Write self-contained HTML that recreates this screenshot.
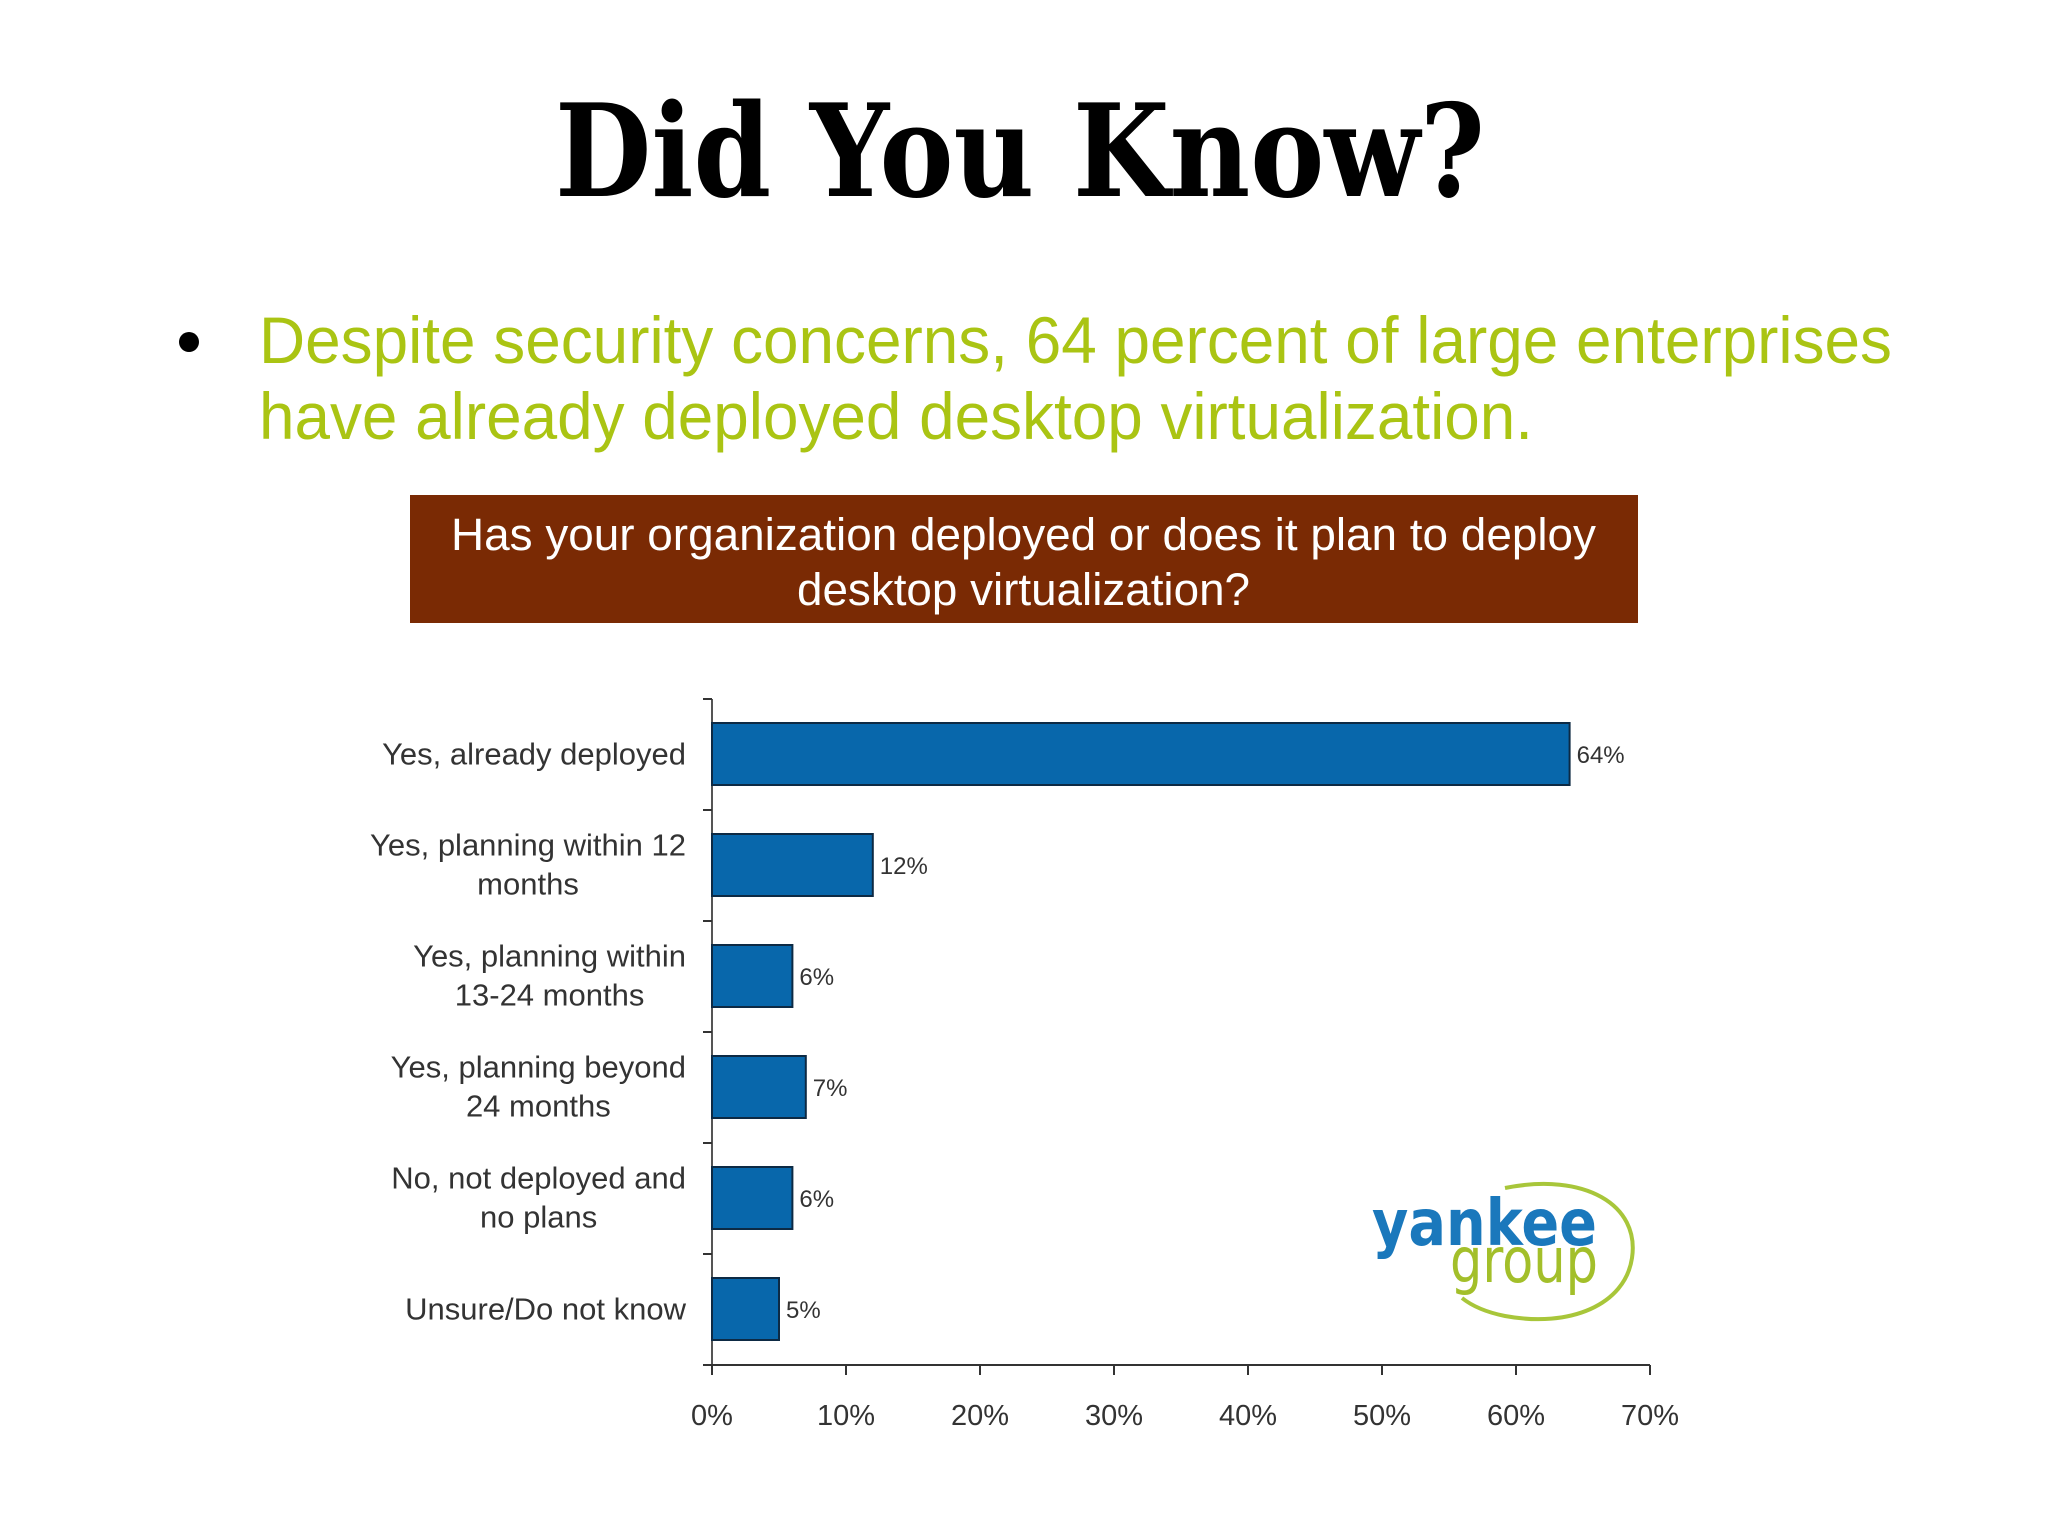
<!DOCTYPE html>
<html><head><meta charset="utf-8"><style>
html,body{margin:0;padding:0;background:#fff;}
svg{display:block;}
</style></head><body>
<svg id="slide" xmlns="http://www.w3.org/2000/svg" width="2048" height="1536" viewBox="0 0 2048 1536">
<rect width="2048" height="1536" fill="#ffffff"/>
<text x="1020" y="196" text-anchor="middle" font-family="DejaVu Serif, Liberation Serif, serif" font-weight="bold" font-size="128" textLength="930" lengthAdjust="spacingAndGlyphs" fill="#000">Did You Know?</text>
<circle cx="189" cy="342" r="10" fill="#000"/>
<g font-family="Liberation Sans, sans-serif" font-size="66" fill="#aac413">
<text x="259" y="363" textLength="1633" lengthAdjust="spacingAndGlyphs">Despite security concerns, 64 percent of large enterprises</text>
<text x="259" y="439" textLength="1274" lengthAdjust="spacingAndGlyphs">have already deployed desktop virtualization.</text>
</g>
<rect x="410" y="495" width="1228" height="128" fill="#7a2a04"/>
<g font-family="Liberation Sans, sans-serif" font-size="45" fill="#fff">
<text x="451" y="550" textLength="1145" lengthAdjust="spacingAndGlyphs">Has your organization deployed or does it plan to deploy</text>
<text x="797" y="605" textLength="453" lengthAdjust="spacingAndGlyphs">desktop virtualization?</text>
</g>
<g id="chart"></g>
<g>
<path d="M1505 1188 C1585 1172 1640 1205 1632 1258 C1625 1305 1570 1328 1505 1316 C1485 1312 1472 1306 1462 1298" fill="none" stroke="#a8c63a" stroke-width="4"/>
<text x="1372" y="1245" font-family="DejaVu Sans, Liberation Sans, sans-serif" font-weight="bold" font-size="64" textLength="225" lengthAdjust="spacingAndGlyphs" fill="#1a78bc">yankee</text>
<text x="1450" y="1282" font-family="DejaVu Sans, Liberation Sans, sans-serif" font-size="62" textLength="148" lengthAdjust="spacingAndGlyphs" fill="#a3bf2a">group</text>
</g>
</svg>
<script>
const categories = [["Yes, already deployed"],["Yes, planning within 12","months"],["Yes, planning within","13-24 months"],["Yes, planning beyond","24 months"],["No, not deployed and","no plans"],["Unsure/Do not know"]];
const values = [64, 12, 6, 7, 6, 5];
const valueLabels = ["64%","12%","6%","7%","6%","5%"];
const xTicks = [0,10,20,30,40,50,60,70];
const xTickLabels = ["0%","10%","20%","30%","40%","50%","60%","70%"];

const NS = "http://www.w3.org/2000/svg";
const g = document.getElementById('chart');
const x0 = 712, pxPer = 13.4, yTop = 699, band = 111;
const xs = v => x0 + v * pxPer;
const yb = i => yTop + i * band;
const yBottom = yb(categories.length);
function mk(tag, attrs, parent){ const e=document.createElementNS(NS,tag); for(const k in attrs) e.setAttribute(k,attrs[k]); (parent||g).appendChild(e); return e; }

const yAxis = mk('line',{x1:x0,y1:yTop,x2:x0,y2:yBottom+8,stroke:'#555','stroke-width':2});


const xAxis = mk('line',{x1:x0-8,y1:yBottom,x2:xs(70),y2:yBottom,stroke:'#333','stroke-width':2});



for(let i=0;i<=categories.length;i++){
  const t = mk('line',{x1:x0-9,y1:yb(i),x2:x0,y2:yb(i),stroke:'#333','stroke-width':2});
  
  
}
xTicks.forEach((v,i)=>{
  const t = mk('line',{x1:xs(v),y1:yBottom,x2:xs(v),y2:yBottom+10,stroke:'#333','stroke-width':2});
  
  
  const l = mk('text',{x:xs(v),y:yBottom+60,'text-anchor':'middle','font-family':'Liberation Sans, sans-serif','font-size':29,fill:'#333'});
  
  
  l.textContent = xTickLabels[i];
});
values.forEach((v,i)=>{
  const top = yb(i)+24;
  const r = mk('rect',{x:x0,y:top,width:xs(v)-x0,height:62,fill:'#0867ab',stroke:'#0d2a44','stroke-width':2});
  
  
  const vl = mk('text',{x:xs(v)+7,y:top+40,'font-family':'Liberation Sans, sans-serif','font-size':24,fill:'#333'});
  
  
  vl.textContent = valueLabels[i];
  const c = yb(i)+band/2;
  const lines = categories[i];
  if(lines.length===1){
    const t = mk('text',{x:686,y:c+10,'text-anchor':'end','font-family':'Liberation Sans, sans-serif','font-size':31,fill:'#333'});
    
    
    t.textContent = lines[0];
  } else {
    const t1 = mk('text',{x:686,y:c-10,'text-anchor':'end','font-family':'Liberation Sans, sans-serif','font-size':31,fill:'#333'});
    
    
    t1.textContent = lines[0];
    const w = t1.getComputedTextLength();
    const t2 = mk('text',{x:686-w/2,y:c+29,'text-anchor':'middle','font-family':'Liberation Sans, sans-serif','font-size':31,fill:'#333'});
    
    
    t2.textContent = lines[1];
  }
});
</script>
</body></html>
